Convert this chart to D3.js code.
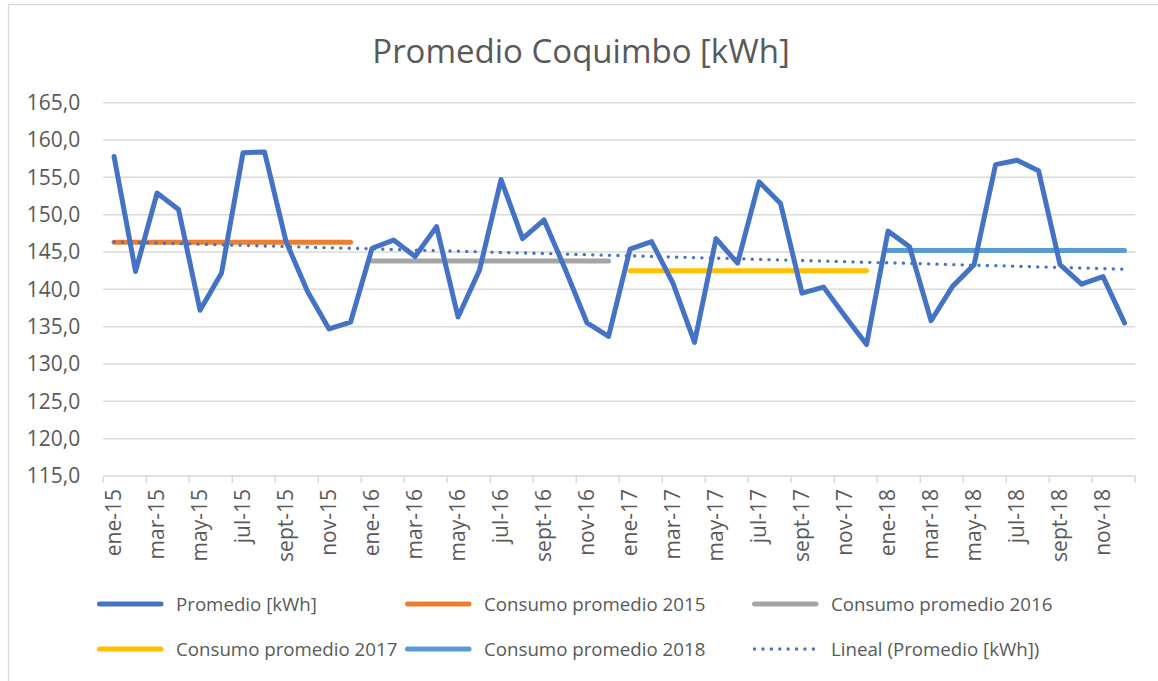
<!DOCTYPE html>
<html>
<head>
<meta charset="utf-8">
<script src="https://cdn.jsdelivr.net/npm/d3@7"></script>
<style>
  body { margin: 0; background: #fff; }
  text { font-family: "Open Sans", sans-serif; fill: #595959; }
</style>
</head>
<body>
<div id="chart"></div>
<script>
// data
var months = ["ene", "feb", "mar", "abr", "may", "jun", "jul", "ago", "sept", "oct", "nov", "dic"];
var years = ["15", "16", "17", "18"];
var promedio = [
    157.8, 142.4, 152.9, 150.7, 137.2, 142.2, 158.3, 158.4, 146.4, 139.7, 134.7, 135.6,
    145.5, 146.6, 144.4, 148.4, 136.3, 142.6, 154.7, 146.8, 149.3, 142.6, 135.5, 133.7,
    145.4, 146.4, 140.8, 132.9, 146.8, 143.5, 154.4, 151.5, 139.5, 140.3, 136.4, 132.6,
    147.8, 145.7, 135.8, 140.4, 143.3, 156.7, 157.3, 155.9, 143.3, 140.7, 141.7, 135.5
];
var consumoAnual = [146.3, 143.8, 142.5, 145.2];
var yTicks = [115, 120, 125, 130, 135, 140, 145, 150, 155, 160, 165];
var seriesNames = ["Promedio [kWh]", "Consumo promedio 2015", "Consumo promedio 2016",
    "Consumo promedio 2017", "Consumo promedio 2018", "Lineal (Promedio [kWh])"];
var colours = ["#4472C4", "#ED7D31", "#A5A5A5", "#FFC000", "#5B9BD5", "#4472C4"];

var categories = [];
years.forEach(function (y) {
    months.forEach(function (m) { categories.push(m + "-" + y); });
});

var width = 1158, height = 681;
var plotLeft = 103.3, plotRight = 1135.3, plotTop = 102.7, plotBottom = 476;

var svg = d3.select("#chart").append("svg")
    .attr("width", width)
    .attr("height", height);

// chart border
svg.append("rect")
    .attr("x", 8.5).attr("y", 4.5)
    .attr("width", width + 20).attr("height", height + 20)
    .attr("fill", "none")
    .attr("stroke", "#D9D9D9")
    .attr("stroke-width", 1.3);

// title
svg.append("text")
    .attr("x", 581).attr("y", 63)
    .attr("text-anchor", "middle")
    .style("font-size", "33px")
    .text("Promedio Coquimbo [kWh]");

// scales
var x = d3.scaleBand().domain(categories).range([plotLeft, plotRight]);
var y = d3.scaleLinear().domain([115, 165]).range([plotBottom, plotTop]);
var cx = function (i) { return x(categories[i]) + x.bandwidth() / 2; };

// gridlines
svg.append("g").selectAll("line")
    .data(yTicks.slice(1)).enter()
    .append("line")
    .attr("x1", plotLeft).attr("x2", plotRight)
    .attr("y1", function (d) { return y(d); })
    .attr("y2", function (d) { return y(d); })
    .attr("stroke", "#D9D9D9")
    .attr("stroke-width", 1.5);

// y axis labels
var yAxis = d3.axisLeft(y)
    .tickValues(yTicks)
    .tickSize(0)
    .tickPadding(23)
    .tickFormat(function (d) { return d3.format(".1f")(d).replace(".", ","); });
var gy = svg.append("g")
    .attr("transform", "translate(" + plotLeft + ",0)")
    .call(yAxis);
gy.select(".domain").remove();
gy.selectAll("text")
    .attr("fill", "#595959")
    .style("font-size", "21px")
    .style("font-family", "Open Sans, sans-serif");

// x axis
var xAxis = d3.axisBottom(x)
    .tickValues(categories.filter(function (d, i) { return i % 2 == 0; }))
    .tickSize(0)
    .tickPadding(0);
var gx = svg.append("g")
    .attr("transform", "translate(0," + plotBottom + ")")
    .call(xAxis);
gx.select(".domain")
    .attr("stroke", "#D9D9D9")
    .attr("stroke-width", 1.5)
    .attr("d", "M" + plotLeft + ",0H" + plotRight);
gx.selectAll("text")
    .attr("fill", "#595959")
    .style("font-size", "21px")
    .style("font-family", "Open Sans, sans-serif")
    .style("text-anchor", "end")
    .attr("dy", "0.35em")
    .attr("transform", "translate(0,13) rotate(-90)")
    .attr("x", 0).attr("y", 0);
// tick marks at category boundaries, every 2 categories
svg.append("g").selectAll("line")
    .data(d3.range(0, categories.length + 1, 2)).enter()
    .append("line")
    .attr("x1", function (i) { return i < categories.length ? x(categories[i]) : plotRight; })
    .attr("x2", function (i) { return i < categories.length ? x(categories[i]) : plotRight; })
    .attr("y1", plotBottom).attr("y2", plotBottom + 7)
    .attr("stroke", "#D9D9D9")
    .attr("stroke-width", 1.5);

// yearly averages
consumoAnual.forEach(function (v, k) {
    svg.append("line")
        .attr("x1", cx(k * 12)).attr("x2", cx(k * 12 + 11))
        .attr("y1", y(v)).attr("y2", y(v))
        .attr("stroke", colours[k + 1])
        .attr("stroke-width", 5)
        .attr("stroke-linecap", "round");
});

// main series
var line = d3.line()
    .x(function (d, i) { return cx(i); })
    .y(function (d) { return y(d); });
svg.append("path")
    .datum(promedio)
    .attr("d", line)
    .attr("fill", "none")
    .attr("stroke", colours[0])
    .attr("stroke-width", 5)
    .attr("stroke-linejoin", "round")
    .attr("stroke-linecap", "round");

// linear trend (least squares on the series)
var n = promedio.length;
var mx = d3.mean(d3.range(n)), my = d3.mean(promedio);
var sxy = d3.sum(promedio, function (d, i) { return (i - mx) * (d - my); });
var sxx = d3.sum(d3.range(n), function (i) { return (i - mx) * (i - mx); });
var slope = sxy / sxx, icpt = my - slope * mx;
svg.append("line")
    .attr("x1", cx(0)).attr("x2", cx(n - 1))
    .attr("y1", y(icpt)).attr("y2", y(icpt + slope * (n - 1)))
    .attr("stroke", colours[5])
    .attr("stroke-width", 3.3)
    .attr("stroke-linecap", "round")
    .attr("stroke-dasharray", "0.1 8.3");

// legend
var legX = [97, 405, 752], legY = [604, 649];
seriesNames.forEach(function (name, i) {
    var lx = legX[i % 3], ly = legY[Math.floor(i / 3)];
    var l = svg.append("line")
        .attr("x1", lx + 2.5).attr("x2", lx + 64)
        .attr("y1", ly).attr("y2", ly)
        .attr("stroke", colours[i])
        .attr("stroke-linecap", "round");
    if (i == 5) {
        l.attr("stroke-width", 3.3).attr("stroke-dasharray", "0.1 8.3");
    } else {
        l.attr("stroke-width", 5);
    }
    svg.append("text")
        .attr("x", lx + 79).attr("y", ly)
        .attr("dy", "0.35em")
        .style("font-size", "18.7px")
        .text(name);
});
</script>
</body>
</html>
